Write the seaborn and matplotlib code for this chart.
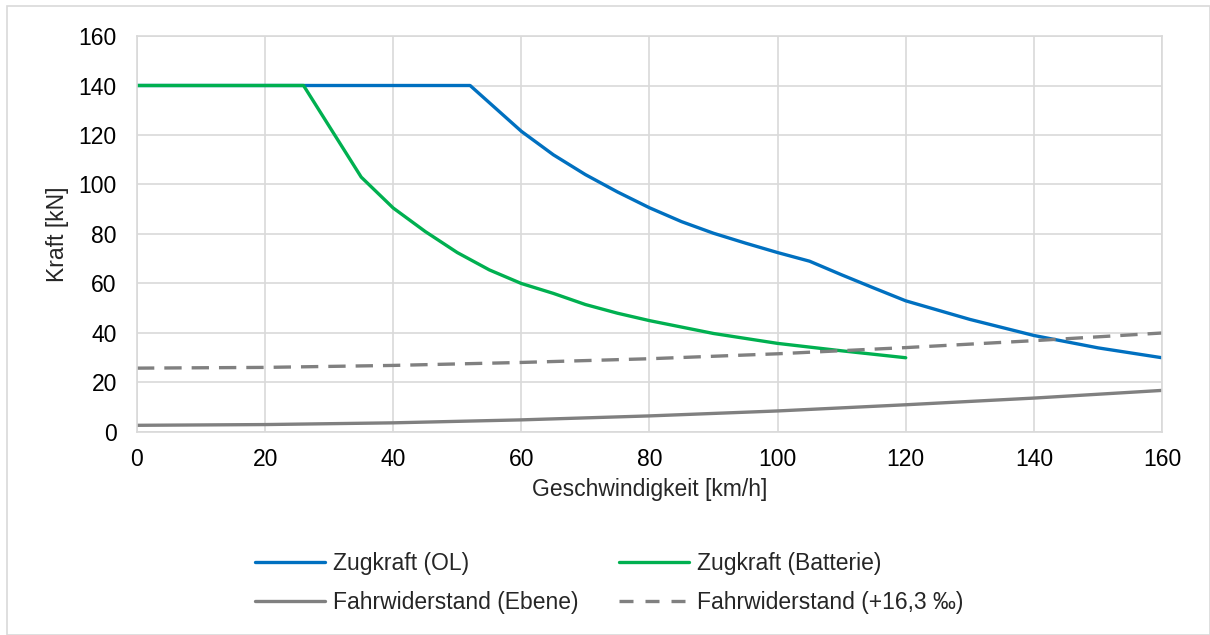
import numpy as np
import pandas as pd
import matplotlib
matplotlib.use("Agg")
import matplotlib.pyplot as plt
import seaborn as sns
from matplotlib.lines import Line2D
from matplotlib.patches import Rectangle

# Zugkraft (Oberleitung)
v_ol = [0, 52, 60, 65, 70, 75, 80, 85, 90, 95, 100, 105, 110, 115, 120, 130, 140, 150, 160]
f_ol = [140, 140, 121.5, 112, 104, 97, 90.6, 85, 80.3, 76.3, 72.5, 69, 63.5, 58.2, 53, 45.5, 39, 34, 30]

# Zugkraft (Batterie)
v_bat = [0, 26, 35, 40, 45, 50, 55, 60, 65, 70, 75, 80, 90, 100, 110, 120]
f_bat = [140, 140, 103, 90.5, 81, 72.5, 65.5, 60, 56, 51.5, 48, 45, 39.8, 35.8, 32.8, 30]

# Fahrwiderstand
v_fw = [0, 20, 40, 60, 80, 100, 120, 140, 160]
f_ebene = [2.7, 3.0, 3.7, 4.9, 6.5, 8.5, 11.0, 13.7, 16.8]
f_steig = [25.8, 26.1, 26.9, 28.1, 29.6, 31.6, 34.1, 36.9, 40.0]

BLAU = "#0070C0"
GRUEN = "#00B050"
GRAU = "#808080"
FS = 16.5
LW = 2.4

sns.set_style("white")
plt.rcParams["font.family"] = ["Liberation Sans", "DejaVu Sans"]

fig = plt.figure(figsize=(12.1, 6.35), dpi=100)
ax = fig.add_axes([0.1132, 0.3197, 0.8471, 0.6236])

sns.lineplot(x=v_ol, y=f_ol, ax=ax, color=BLAU, linewidth=LW)
sns.lineplot(x=v_bat, y=f_bat, ax=ax, color=GRUEN, linewidth=LW)
sns.lineplot(x=v_fw, y=f_ebene, ax=ax, color=GRAU, linewidth=LW)
sns.lineplot(x=v_fw, y=f_steig, ax=ax, color=GRAU, linewidth=LW)
ax.lines[-1].set_dashes((5.2, 3.0))

ax.set_xlim(0, 160)
ax.set_ylim(0, 160)
ax.set_xticks(np.arange(0, 161, 20))
ax.set_yticks(np.arange(0, 161, 20))
ax.grid(True, color="#D9D9D9", linewidth=1.2)
ax.set_axisbelow(True)
for s in ax.spines.values():
    s.set_color("#D9D9D9")
    s.set_linewidth(1.2)
ax.tick_params(axis="both", length=0, labelsize=FS, colors="black")
ax.tick_params(axis="x", pad=11.5)
ax.tick_params(axis="y", pad=14.5)
ax.set_xlabel("Geschwindigkeit [km/h]", fontsize=FS, labelpad=4.8)
ax.set_ylabel("Kraft [kN]", fontsize=FS, labelpad=7)

# Legende: Zeile 1 Zugkraft, Zeile 2 Fahrwiderstand
proxies = [
    Line2D([], [], color=BLAU, lw=LW),
    Line2D([], [], color=GRAU, lw=LW),
    Line2D([], [], color=GRUEN, lw=LW),
    Line2D([], [], color=GRAU, lw=LW, dashes=(4.2, 3.6)),
]
labels = ["Zugkraft (OL)", "Fahrwiderstand (Ebene)",
          "Zugkraft (Batterie)", "Fahrwiderstand (+16,3 ‰)"]
fig.legend(proxies, labels, loc="upper left", bbox_to_anchor=(0.2031, 0.145),
           ncol=2, frameon=False, fontsize=FS, handlelength=3.06,
           handletextpad=0.35, columnspacing=1.75, labelspacing=0.69,
           borderpad=0.4, borderaxespad=0)

fig.patches.append(Rectangle((0.006, 0.0), 0.994, 0.991, transform=fig.transFigure,
                             fill=False, edgecolor="#D9D9D9", linewidth=1.2))

fig.savefig("out.png", dpi=100)
plt.close(fig)
